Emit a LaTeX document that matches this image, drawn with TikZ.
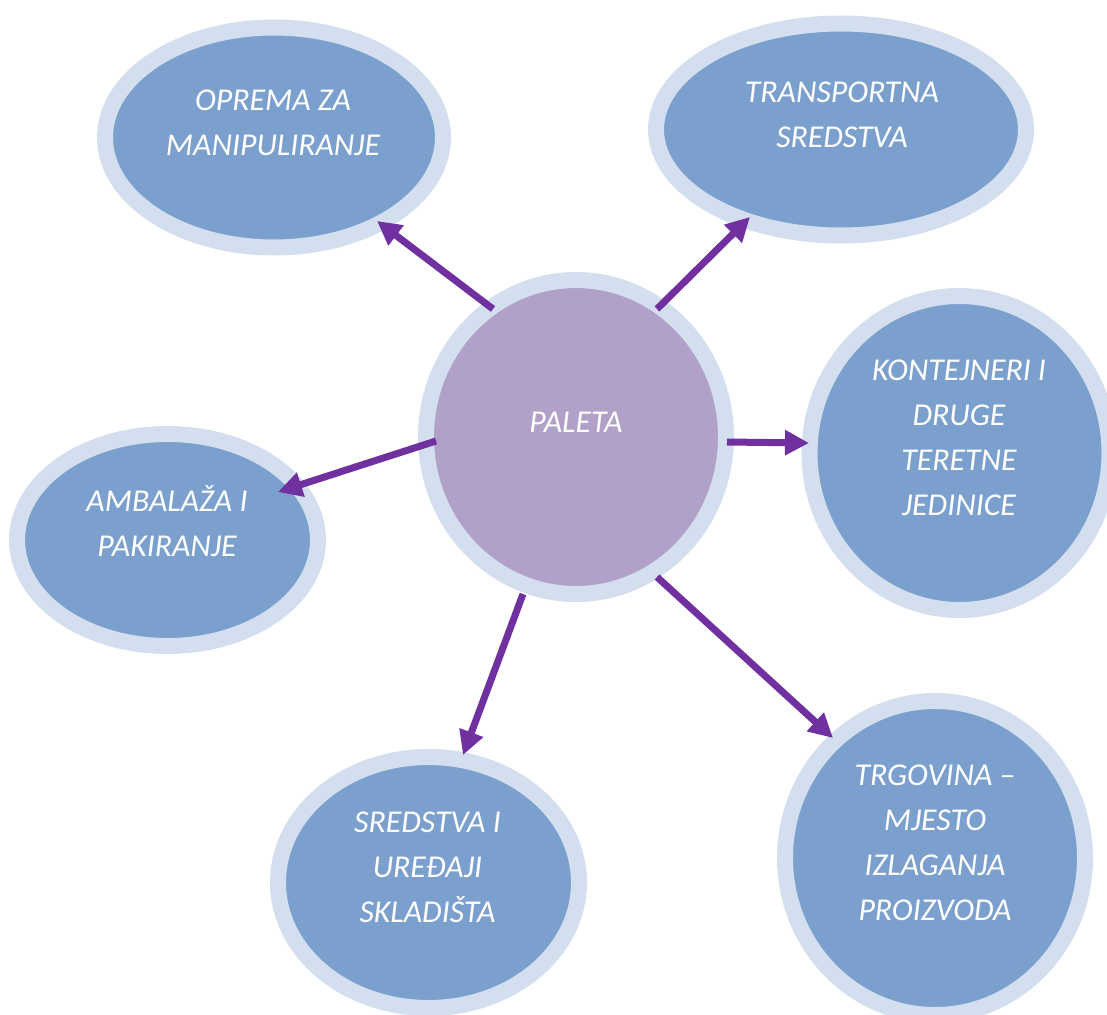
\documentclass[tikz,border=0pt]{standalone}
\usepackage{fontspec}
\setmainfont{Carlito}
\usetikzlibrary{shapes.geometric,arrows.meta}
\definecolor{ringc}{HTML}{D3DFEE}
\definecolor{bluec}{HTML}{7BA0CD}
\definecolor{purplec}{HTML}{B1A0C7}
\definecolor{arrowc}{HTML}{7030A0}
\tikzset{
  bubble/.style={ellipse, draw=ringc, fill=bluec, line width=16pt, inner sep=0pt},
  centerbubble/.style={bubble, fill=purplec},
  lbl/.style={text=white, align=center, inner sep=0pt, font=\itshape\fontsize{31.8}{45}\selectfont},
  arr/.style={draw=arrowc, line width=7pt, -{Triangle[length=24pt,width=24pt]}}
}
\begin{document}
\begin{tikzpicture}[x=1pt,y=-1pt]
\useasboundingbox (0,0) rectangle (1107,1014);
\begin{scope}
\clip (0,0) rectangle (1107,1014);
\node[bubble, minimum width=338pt, minimum height=220pt] (n1) at (274,137.5) {};
\node[bubble, minimum width=370pt, minimum height=212pt] (n2) at (841,129.5) {};
\node[centerbubble, minimum width=300pt, minimum height=314pt] (c) at (576,437) {};
\node[bubble, minimum width=300pt, minimum height=314pt] (n3) at (959.5,453) {};
\node[bubble, minimum width=301pt, minimum height=212pt] (n4) at (167.5,540) {};
\node[bubble, minimum width=301pt, minimum height=251pt] (n5) at (428.5,882.5) {};
\node[bubble, minimum width=300pt, minimum height=314pt] (n6) at (935,858) {};
\end{scope}

\node[lbl] (t1) at (273,122.5) {OPREMA ZA\\MANIPULIRANJE};
\node[lbl] (t2) at (842,114.5) {TRANSPORTNA\\SREDSTVA};
\node[lbl] (tc) at (576,422) {PALETA};
\node[lbl] (t3) at (959,437.5) {KONTEJNERI I\\DRUGE\\TERETNE\\JEDINICE};
\node[lbl] (t4) at (167,521.5) {AMBALAŽA I\\PAKIRANJE};
\node[lbl] (t5) at (427.5,867) {SREDSTVA I\\UREĐAJI\\SKLADIŠTA};
\node[lbl] (t6) at (935,842.5) {TRGOVINA –\\MJESTO\\IZLAGANJA\\PROIZVODA};

\coordinate (s1) at (493,309); \coordinate (e1) at (377,221);
\coordinate (s2) at (657,309); \coordinate (e2) at (750,217);
\coordinate (s3) at (727,442); \coordinate (e3) at (809,443);
\coordinate (s4) at (436,441); \coordinate (e4) at (278,492);
\coordinate (s5) at (523,594); \coordinate (e5) at (463,755);
\coordinate (s6) at (657,577); \coordinate (e6) at (833,738);
\draw[arr] (s1) -- (e1);
\draw[arr] (s2) -- (e2);
\draw[arr] (s3) -- (e3);
\draw[arr] (s4) -- (e4);
\draw[arr] (s5) -- (e5);
\draw[arr] (s6) -- (e6);
\end{tikzpicture}
\end{document}
